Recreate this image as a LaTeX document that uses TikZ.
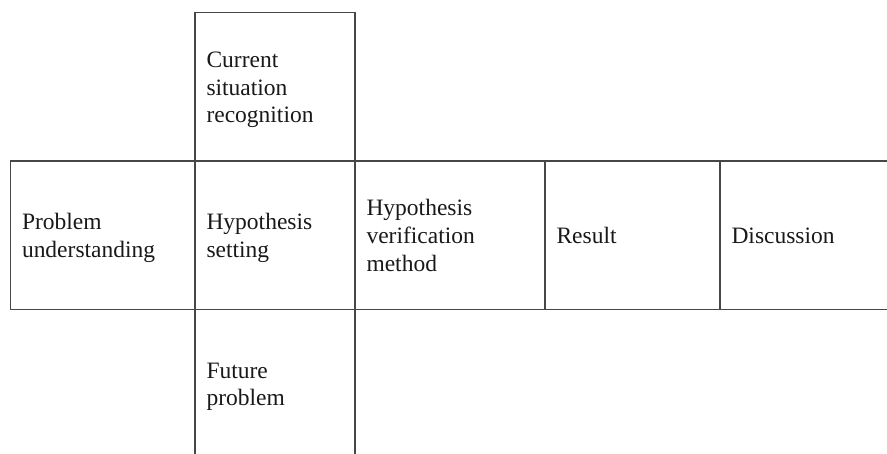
\documentclass[tikz,border=0pt]{standalone}
\usepackage{fontspec}
\setmainfont{Liberation Serif}
\newfontfamily\cellfont{Liberation Serif}
\newcommand\cellstrut{\rule[-5.3pt]{0pt}{27.6pt}}
\begin{document}
\begin{tikzpicture}[x=1pt,y=-1pt,
  cell/.style={draw=black!72, line width=1.3pt, rectangle, outer sep=0pt,
    inner xsep=11.5pt, inner ysep=0pt, align=left, anchor=north west,
    minimum height=148.3pt, text=black!90,
    font=\cellfont\fontsize{23.5}{27.7}\selectfont}]
\path[use as bounding box] (0,0) rectangle (887,453);
\clip (0,0) rectangle (887,453);
\node[cell, text width=137pt, minimum height=148.5pt] (current) at (195,12.5)
  {\cellstrut Current\\\cellstrut situation\\\cellstrut recognition};
\node[cell, text width=161.5pt] (problem) at (10.5,161)
  {\cellstrut Problem\\\cellstrut understanding};
\node[cell, text width=137pt] (hyp) at (195,161)
  {\cellstrut Hypothesis\\\cellstrut setting};
\node[cell, text width=167pt] (verif) at (355,161)
  {\cellstrut Hypothesis\\\cellstrut verification\\\cellstrut method};
\node[cell, text width=152pt] (result) at (545,161)
  {\cellstrut Result};
\node[cell, text width=160pt] (disc) at (720,161)
  {\cellstrut Discussion};
\node[cell, text width=137pt] (future) at (195,309.3)
  {\cellstrut Future\\\cellstrut problem};
\end{tikzpicture}
\end{document}
